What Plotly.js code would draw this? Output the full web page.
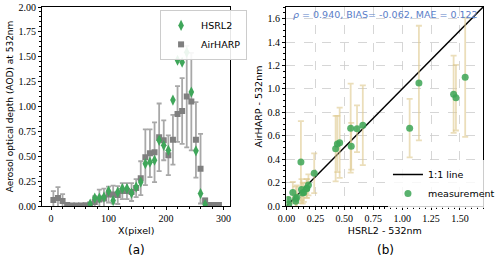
<!DOCTYPE html>
<html>
<head>
<meta charset="utf-8">
<script src="https://cdn.plot.ly/plotly-3.0.1.min.js"></script>
<style>html,body{margin:0;padding:0;background:#fff}#chart{width:500px;height:260px}</style>
</head>
<body>
<div id="chart"></div>
<script>
// X position along the flight track (pixel)
const xPixel = [4,12,20,28,36,44,52,60,68,76,84,92,100,108,116,124,132,140,148,156,164,172,180,188,196,204,212,220,228,236,244,252,260,268,276,284,292];
// AirHARP AOD at 532nm and its uncertainty
const aodAirHARP = [0.06,0.08,0.05,0.01,0.005,0.005,0.005,0.008,0.015,0.04,0.065,0.075,0.115,0.115,0.11,0.15,0.15,0.14,0.18,0.28,0.49,0.53,0.54,0.69,0.66,0.51,0.665,0.925,0.955,1.10,1.05,0.665,0.375,0.055,0.01,0.01,0.01];
const errAirHARP = [0.09,0.11,0.07,0.005,0.004,0.004,0.004,0.005,0.01,0.06,0.1,0.1,0.08,0.09,0.09,0.08,0.08,0.09,0.09,0.17,0.28,0.24,0.3,0.34,0.2,0.2,0.25,0.28,0.33,0.51,0.49,0.38,0.35,0.02,0.005,0.005,0.005];
// HSRL2 AOD at 532nm (null = no retrieval)
const aodHSRL2 = [null,null,null,null,null,null,null,null,0.02,0.08,0.08,0.09,0.15,0.055,0.14,0.175,0.175,0.13,0.19,0.24,0.425,0.44,0.46,0.66,0.61,0.56,1.065,1.465,1.445,1.545,1.145,0.555,0.125,0.015,null,null,null];
// 1:1 reference line
const oneToOne = [0, 1.7];
const statsText = "<i>ρ</i> = 0.940, BIAS= -0.062, MAE = 0.122";

// pairs for scatter
const scX = [], scY = [], scE = [];
for (let i = 0; i < xPixel.length; i++) {
  if (aodHSRL2[i] !== null) { scX.push(aodHSRL2[i]); scY.push(aodAirHARP[i]); scE.push(errAirHARP[i]); }
}

const serif = "Liberation Serif, DejaVu Serif, serif";
const sans = "DejaVu Sans, sans-serif";

const traces = [
  {x: xPixel, y: aodAirHARP, type: 'scatter', mode: 'markers', name: 'AirHARP',
   marker: {symbol: 'square', size: 6, color: '#7f7f7f'},
   error_y: {type: 'data', array: errAirHARP, visible: true, color: '#a8a8a8', thickness: 1.8, width: 2.5},
   xaxis: 'x', yaxis: 'y', legend: 'legend', legendrank: 2},
  {x: xPixel, y: aodHSRL2, type: 'scatter', mode: 'markers', name: 'HSRL2',
   marker: {symbol: 'diamond-tall', size: 8, color: '#3fa65a'},
   xaxis: 'x', yaxis: 'y', legend: 'legend', legendrank: 1},
  {x: oneToOne, y: oneToOne, type: 'scatter', mode: 'lines', name: '1:1 line',
   line: {color: '#000', width: 1.5}, xaxis: 'x2', yaxis: 'y2', legend: 'legend2', legendrank: 1},
  {x: scX, y: scY, type: 'scatter', mode: 'markers', name: 'measurement',
   marker: {symbol: 'circle', size: 7, color: 'rgba(60,165,85,0.85)'},
   error_y: {type: 'data', array: scE, visible: true, color: 'rgba(222,200,140,0.6)', thickness: 1.8, width: 3},
   xaxis: 'x2', yaxis: 'y2', legend: 'legend2', legendrank: 2}
];

const axCommon = {
  showline: true, linecolor: '#000', linewidth: 1, mirror: true,
  ticks: 'outside', ticklen: 3.5, tickwidth: 1, tickcolor: '#000',
  tickfont: {family: serif, size: 10, color: '#000'}, zeroline: false
};

const layout = {
  width: 500, height: 260,
  margin: {l: 0, r: 0, t: 0, b: 0},
  paper_bgcolor: '#fff', plot_bgcolor: '#fff',
  showlegend: true,
  xaxis: Object.assign({}, axCommon, {
    domain: [0.087, 0.471], range: [-15, 311], dtick: 100, tick0: 0, showgrid: false,
    minor: {dtick: 20, ticklen: 2, tickcolor: '#000', ticks: 'outside'},
    title: {text: 'X(pixel)', font: {family: sans, size: 9.5, color: '#000'}, standoff: 3}
  }),
  yaxis: Object.assign({}, axCommon, {
    domain: [0.2077, 0.973], range: [0, 2], dtick: 0.25, tickformat: '.2f', showgrid: false,
    minor: {dtick: 0.05, ticklen: 2, tickcolor: '#000', ticks: 'outside'},
    title: {text: 'Aerosol optical depth (AOD) at 532nm', font: {family: sans, size: 9, color: '#000'}, standoff: 3}
  }),
  xaxis2: Object.assign({}, axCommon, {
    domain: [0.587, 0.99], range: [0, 1.7], dtick: 0.25, tickformat: '.2f', anchor: 'y2',
    showgrid: true, gridcolor: '#cccccc', griddash: 'dash', gridwidth: 0.8,
    minor: {dtick: 0.05, ticklen: 2, tickcolor: '#000', ticks: 'outside'},
    title: {text: 'HSRL2 - 532nm', font: {family: sans, size: 9.5, color: '#000'}, standoff: 3}
  }),
  yaxis2: Object.assign({}, axCommon, {
    domain: [0.2077, 0.973], range: [0, 1.7], dtick: 0.2, tickformat: '.1f', anchor: 'x2',
    showgrid: true, gridcolor: '#cccccc', griddash: 'dash', gridwidth: 0.8,
    minor: {dtick: 0.05, ticklen: 2, tickcolor: '#000', ticks: 'outside'},
    title: {text: 'AirHARP - 532nm', font: {family: sans, size: 9.5, color: '#000'}, standoff: 3}
  }),
  legend: {x: 0.328, y: 0.962, xanchor: 'left', yanchor: 'top',
    bgcolor: 'rgba(255,255,255,0.9)', bordercolor: '#cccccc', borderwidth: 1,
    font: {family: sans, size: 9.5, color: '#000'}, tracegroupgap: 0, itemwidth: 30},
  legend2: {x: 0.795, y: 0.2, xanchor: 'left', yanchor: 'bottom',
    bgcolor: 'rgba(255,255,255,0.8)', borderwidth: 0,
    font: {family: sans, size: 9.5, color: '#000'}, tracegroupgap: 0, itemwidth: 30},
  annotations: [
    {text: statsText, xref: 'paper', yref: 'paper', x: 0.596, y: 0.945, xanchor: 'left', yanchor: 'middle',
     showarrow: false, font: {family: sans, size: 9.5, color: '#5a7ec8'}},
    {text: '(a)', xref: 'paper', yref: 'paper', x: 0.279, y: 0.04, xanchor: 'center', yanchor: 'middle',
     showarrow: false, font: {family: sans, size: 12, color: '#000'}},
    {text: '(b)', xref: 'paper', yref: 'paper', x: 0.789, y: 0.04, xanchor: 'center', yanchor: 'middle',
     showarrow: false, font: {family: sans, size: 12, color: '#000'}}
  ]
};

Plotly.newPlot('chart', traces, layout, {staticPlot: true, displayModeBar: false});
</script>
</body>
</html>
